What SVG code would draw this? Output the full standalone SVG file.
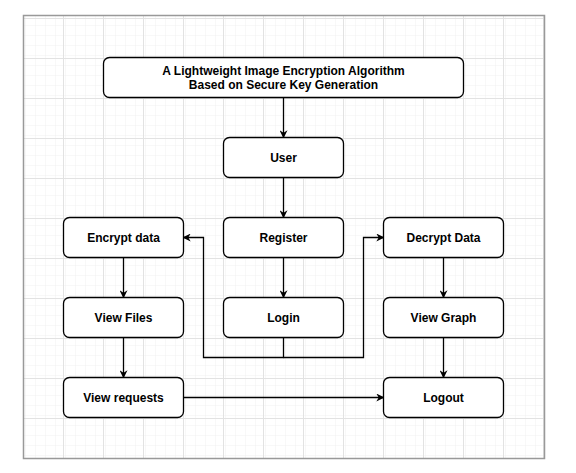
<svg xmlns="http://www.w3.org/2000/svg" width="576" height="473" viewBox="0 0 576 473">
<style>
.node rect{fill:#ffffff;stroke:#000000;stroke-width:1.3}
.node text{font-family:"Liberation Sans",Arial,sans-serif;font-size:12px;font-weight:bold;fill:#000000;text-anchor:middle;dominant-baseline:central}
.conn path{fill:none;stroke:#000000;stroke-width:1.3}
</style>
<defs>
<pattern id="minor" x="23" y="18" width="10" height="10" patternUnits="userSpaceOnUse">
<path d="M10 0V10M0 10H10" fill="none" stroke="#f1f1f1" stroke-width="1"/>
</pattern>
<pattern id="major" x="23" y="18" width="40" height="40" patternUnits="userSpaceOnUse">
<rect width="40" height="40" fill="url(#minor)"/>
<path d="M0.5 0V40M0 0.5H40" fill="none" stroke="#e2e2e2" stroke-width="1"/>
</pattern>
<marker id="arr" viewBox="0 0 10 10" refX="9" refY="5" markerWidth="8" markerHeight="8" markerUnits="userSpaceOnUse" orient="auto">
<path d="M0 0L10 5L0 10L3 5Z" fill="#000000"/>
</marker>
</defs>
<rect width="576" height="473" fill="#ffffff"/>
<rect x="23.5" y="15.5" width="521" height="443" fill="url(#major)" stroke="#999999" stroke-width="1.5"/>

<g class="conn">
<path d="M283.5 97.5V137.5" marker-end="url(#arr)"/>
<path d="M283.5 177.5V217.5" marker-end="url(#arr)"/>
<path d="M283.5 257.5V297.5" marker-end="url(#arr)"/>
<path d="M283.5 337.5V357.5H203.5V237.5H183.5" marker-end="url(#arr)"/>
<path d="M283.5 357.5H363.5V237.5H383.5" marker-end="url(#arr)"/>
<path d="M123.5 257.5V297.5" marker-end="url(#arr)"/>
<path d="M123.5 337.5V377.5" marker-end="url(#arr)"/>
<path d="M443.5 257.5V297.5" marker-end="url(#arr)"/>
<path d="M443.5 337.5V377.5" marker-end="url(#arr)"/>
<path d="M183.5 397.5H383.5" marker-end="url(#arr)"/>
</g>

<g id="title" class="node"><rect x="103.5" y="57.5" width="360" height="40" rx="6"/><text x="283.5" y="70.5">A Lightweight Image Encryption Algorithm</text><text x="283.5" y="84.5">Based on Secure Key Generation</text></g>
<g id="user" class="node"><rect x="223.5" y="137.5" width="120" height="40" rx="6"/><text x="283.5" y="157.5">User</text></g>
<g id="encrypt" class="node"><rect x="63.5" y="217.5" width="120" height="40" rx="6"/><text x="123.5" y="237.5">Encrypt data</text></g>
<g id="register" class="node"><rect x="223.5" y="217.5" width="120" height="40" rx="6"/><text x="283.5" y="237.5">Register</text></g>
<g id="decrypt" class="node"><rect x="383.5" y="217.5" width="120" height="40" rx="6"/><text x="443.5" y="237.5">Decrypt Data</text></g>
<g id="viewfiles" class="node"><rect x="63.5" y="297.5" width="120" height="40" rx="6"/><text x="123.5" y="317.5">View Files</text></g>
<g id="login" class="node"><rect x="223.5" y="297.5" width="120" height="40" rx="6"/><text x="283.5" y="317.5">Login</text></g>
<g id="viewgraph" class="node"><rect x="383.5" y="297.5" width="120" height="40" rx="6"/><text x="443.5" y="317.5">View Graph</text></g>
<g id="viewrequests" class="node"><rect x="63.5" y="377.5" width="120" height="40" rx="6"/><text x="123.5" y="397.5">View requests</text></g>
<g id="logout" class="node"><rect x="383.5" y="377.5" width="120" height="40" rx="6"/><text x="443.5" y="397.5">Logout</text></g>
</svg>
